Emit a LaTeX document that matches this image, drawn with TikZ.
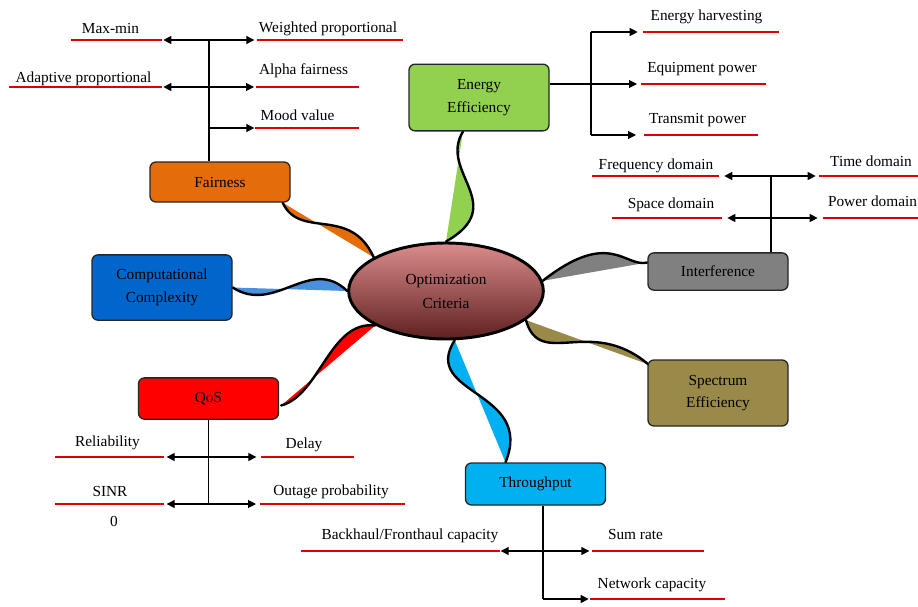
\documentclass[tikz,border=0pt]{standalone}
\usepackage{fontspec}
\setmainfont{Liberation Serif}
\usetikzlibrary{arrows.meta,calc,shapes.geometric,backgrounds}
\definecolor{fairorange}{HTML}{E46C0A}
\definecolor{eegreen}{HTML}{92D050}
\definecolor{compblue}{HTML}{0066CC}
\definecolor{tendrilblue}{HTML}{4A90DC}
\definecolor{intgray}{HTML}{808080}
\definecolor{specolive}{HTML}{9A8A4A}
\definecolor{qosred}{HTML}{FF0000}
\definecolor{thrcyan}{HTML}{00B0F0}
\definecolor{leafred}{HTML}{D80000}
\definecolor{ovaltop}{HTML}{DC8C8C}
\definecolor{ovalbot}{HTML}{5E2020}
\tikzset{
  box/.style={draw=black!85, line width=1pt, rounded corners=4.5pt, minimum width=105pt, align=center, inner sep=2pt, font=\fontsize{11.5}{17}\selectfont},
  redline/.style={leafred, line width=2.2pt},
  leaftext/.style={inner sep=0pt, font=\fontsize{11.5}{14}\selectfont},
  arr/.style={-{Triangle[length=6pt,width=6pt]}, line width=0.8pt},
  dbl/.style={{Triangle[length=6pt,width=6pt]}-{Triangle[length=6pt,width=6pt]}, line width=0.8pt},
  trunk/.style={line width=0.8pt},
  tendrilline/.style={line width=1.8pt, line cap=round}
}
\newcommand{\leaf}[7]{ \draw[redline] (#2,#4) coordinate (#1-l) -- (#3,#4) coordinate (#1-r); \node[leaftext] (#1) at (#5,#6) {#7};}
\newcommand{\tendril}[5]{ \fill[#1] (#2) .. controls (#3) and (#4) .. (#5) -- cycle; \draw[tendrilline] (#2) .. controls (#3) and (#4) .. (#5);}
\begin{document}
\begin{tikzpicture}[x=0.75pt,y=-0.75pt]
    \useasboundingbox (0,0) rectangle (918,607);
    % centre
    \node[ellipse, draw, line width=2.2pt, top color=ovaltop, bottom color=ovalbot, minimum width=146pt, minimum height=72pt, inner sep=0pt, align=center, font=\fontsize{11.5}{18}\selectfont] (oc) at (446,291) {Optimization\\Criteria};
    % boxes
    \node[box, fill=fairorange, minimum height=30pt] (fair) at (220,182) {Fairness};
    \node[box, fill=eegreen, minimum height=50pt] (ee) at (479,97.5) {Energy\\Efficiency};
    \node[box, fill=compblue, minimum height=49pt] (comp) at (162,287.5) {Computational\\Complexity};
    \node[box, fill=intgray, minimum height=28pt] (intf) at (718,271.5) {Interference};
    \node[box, fill=specolive, minimum height=49.5pt] (spec) at (718,393) {Spectrum\\Efficiency};
    \node[box, fill=qosred, minimum height=31pt] (qos) at (208.5,398.5) {QoS};
    \node[box, fill=thrcyan, minimum height=31.5pt] (thr) at (535.5,484) {Throughput};
    % tendrils
    \coordinate (fairend) at ($(fair.south east)+(-8,0)$);
    \coordinate (eeend) at ($(ee.south)+(-16,0)$);
    \coordinate (intfend) at ($(intf.west)+(0,-9)$);
    \coordinate (specend) at ($(spec.north west)+(1,5)$);
    \coordinate (qosend) at ($(qos.east)+(2,7)$);
    \coordinate (thrend) at ($(thr.north)+(-30,0)$);
    \begin{scope}[on background layer]
        \tendril{fairorange}{fairend}{300,240}{350,205}{oc.155}
        \tendril{eegreen}{eeend}{438,172}{510,205}{oc.90}
        \tendril{tendrilblue}{comp.east}{275,315}{310,255}{oc.180}
        \tendril{intgray}{intfend}{625,268}{610,228}{oc.6}
        \tendril{specolive}{oc.-20}{540,370}{590,315}{specend}
        \tendril{qosred}{qosend}{320,395}{330,320}{oc.206}
        \tendril{thrcyan}{oc.-80}{420,395}{535,390}{thrend}
    \end{scope}
    % fairness
    \leaf{maxmin}{71}{162}{40}{110.5}{28}{Max-min}
    \leaf{wprop}{257}{403}{40}{328}{28.5}{Weighted proportional}
    \leaf{aprop}{9}{162}{87}{83.5}{79}{Adaptive proportional}
    \leaf{alpha}{256}{359}{87}{303.5}{70.5}{Alpha fairness}
    \leaf{mood}{255}{359}{128}{297.5}{115.5}{Mood value}
    \coordinate (f1) at (209,40);
    \coordinate (f3) at (209,128);
    \draw[trunk] (f1) -- (f1 |- fair.north);
    \draw[dbl, shorten <=1pt, shorten >=2pt] (maxmin-r) -- (wprop-l);
    \draw[dbl, shorten <=1pt, shorten >=1.5pt] (aprop-r) -- (alpha-l);
    \draw[arr, shorten >=0.5pt] (f3) -- (mood-l);
    % energy efficiency
    \leaf{eharv}{643}{779}{32}{706.5}{16.5}{Energy harvesting}
    \leaf{eequip}{641}{766}{84}{702}{69.5}{Equipment power}
    \leaf{etrans}{644}{758}{135}{697.5}{120}{Transmit power}
    \coordinate (e1) at (591,32);
    \coordinate (e3) at (591,135);
    \draw[trunk] (e1) -- (e3);
    \draw[arr, shorten >=4pt] (e1) -- (eharv-l);
    \draw[arr, shorten >=3pt] (ee.east |- eequip-l) -- (eequip-l);
    \draw[arr, shorten >=6pt] (e3) -- (etrans-l);
    % interference
    \leaf{ifreq}{592}{719}{176}{656}{165.5}{Frequency domain}
    \leaf{itime}{819}{918}{176}{871}{161.5}{Time domain}
    \leaf{ispace}{612}{722}{218}{671}{204.5}{Space domain}
    \leaf{ipower}{823}{918}{218}{872.5}{201.5}{Power domain}
    \coordinate (i1) at (771,176);
    \draw[trunk] (i1) -- (i1 |- intf.north);
    \draw[dbl, shorten <=4pt, shorten >=2.5pt] (ifreq-r) -- (itime-l);
    \draw[dbl, shorten <=4pt, shorten >=4pt] (ispace-r) -- (ipower-l);
    % qos
    \leaf{qrel}{55}{164}{457}{107.5}{442.5}{Reliability}
    \leaf{qdelay}{261}{354}{457}{304}{444.5}{Delay}
    \leaf{qsinr}{55}{164}{504}{110}{491.5}{SINR}
    \leaf{qout}{260}{405}{504}{331}{491.5}{Outage probability}
    \node[leaftext] (zero) at (114,521) {0};
    \coordinate (q2) at (208.5,504);
    \draw[trunk] (qos.south) -- (q2);
    \draw[dbl, shorten <=2pt, shorten >=3.5pt] (qrel-r) -- (qdelay-l);
    \draw[dbl, shorten <=2pt, shorten >=3pt] (qsinr-r) -- (qout-l);
    % throughput
    \leaf{tback}{301}{500}{551}{410}{536}{Backhaul/Fronthaul capacity}
    \leaf{tsum}{592}{704}{551}{635.5}{534}{Sum rate}
    \leaf{tnet}{590}{725}{599}{652}{585}{Network capacity}
    \coordinate (t2) at (543,599);
    \draw[trunk] (t2 |- thr.south) -- (t2);
    \draw[dbl, shorten <=0.5pt, shorten >=2pt] (tback-r) -- (tsum-l);
    \draw[arr, shorten >=1pt] (t2) -- (tnet-l);
\end{tikzpicture}
\end{document}
